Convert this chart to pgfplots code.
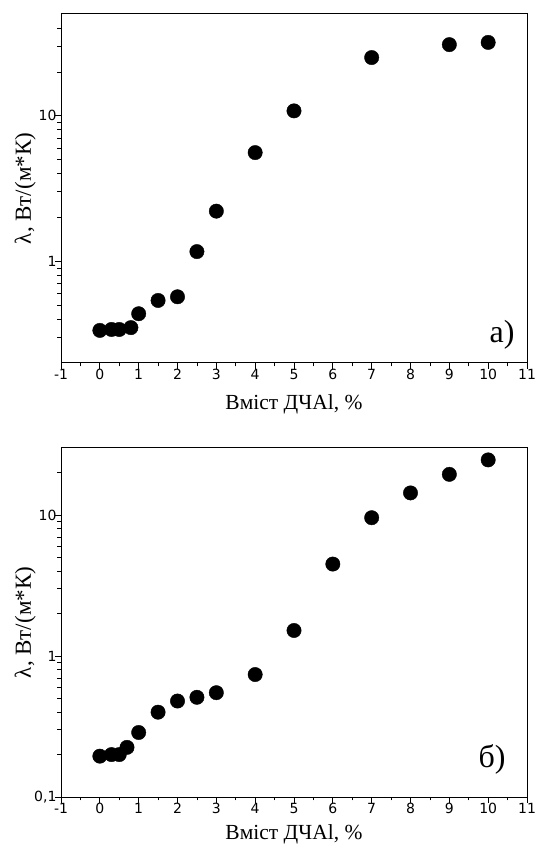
\documentclass[border=0pt]{standalone}
\usepackage{fontspec}
\setmainfont{Liberation Serif}
\newfontfamily\ticksf{DejaVu Sans}
\newcommand\tickfont{\ticksf\fontsize{14}{16}\selectfont}
\newcommand\labfont{\fontsize{21.5}{24}\selectfont}
\usepackage{pgfplots}
\usepackage{pgfplotstable}
\pgfplotsset{compat=1.18}

\pgfplotstableread{
x y
0   0.335
0.3 0.34
0.5 0.34
0.8 0.35
1   0.436
1.5 0.538
2   0.57
2.5 1.165
3   2.21
4   5.58
5   10.8
7   25.1
9   30.8
10  31.9
}\dataA

\pgfplotstableread{
x y
0   0.195
0.3 0.20
0.5 0.20
0.7 0.225
1   0.287
1.5 0.40
2   0.48
2.5 0.51
3   0.55
4   0.74
5   1.52
6   4.5
7   9.6
8   14.4
9   19.5
10  24.7
}\dataB

\pgfplotsset{
  every axis/.append style={
    scale only axis, width=466pt, height=349pt,
    xmin=-1, xmax=11,
    xtick={-1,0,...,11},
    xticklabels={-1,0,1,2,3,4,5,6,7,8,9,10,11},
    minor x tick num=1,
    tick align=outside, xtick pos=left, ytick pos=left,
    major tick length=6pt, minor tick length=3.5pt,
    tick style={line width=0.8pt, black},
    axis line style={line width=1pt},
    xlabel style={font=\labfont,
      at={([yshift=-47pt]axis description cs:0.5,0)}, anchor=base},
    ylabel style={font=\fontsize{23}{26}\selectfont,
      at={([xshift=-30pt]axis description cs:0,0.5)}, anchor=base},
  },
}

\begin{document}
\begin{tikzpicture}
\useasboundingbox (0pt,0pt) rectangle (538pt,845pt);

\begin{semilogyaxis}[at={(61pt,482pt)}, anchor=south west,
    ymin=0.2, ymax=50,
    ytick={1,10}, yticklabels={1,10},
    minor ytick={0.3,0.4,0.5,0.6,0.7,0.8,0.9,2,3,4,5,6,7,8,9,20,30,40},
    xticklabel style={font=\tickfont, yshift=3pt},
    yticklabel style={font=\tickfont, xshift=5pt},
    xlabel={Вміст ДЧАl, \%},
    ylabel={λ, Вт/(м*К)},
]
\addplot[only marks, mark=*, mark size=7.2pt, mark options={fill=black, draw=black}]
  table[x=x, y=y] {\dataA};
\node[anchor=base east, font=\fontsize{32}{36}\selectfont]
  at ([xshift=-9pt, yshift=20pt]rel axis cs:1,0) {a)};
\end{semilogyaxis}

\begin{semilogyaxis}[at={(61pt,48pt)}, anchor=south west,
    ymin=0.1, ymax=30,
    ytick={0.1,1,10}, yticklabels={{0,1},1,10},
    minor ytick={0.2,0.3,0.4,0.5,0.6,0.7,0.8,0.9,2,3,4,5,6,7,8,9,20},
    xticklabel style={font=\tickfont, yshift=3pt},
    yticklabel style={font=\tickfont, xshift=5pt},
    xlabel={Вміст ДЧАl, \%},
    ylabel={λ, Вт/(м*К)},
    xlabel style={at={([yshift=-42pt]axis description cs:0.5,0)}},
]
\addplot[only marks, mark=*, mark size=7.2pt, mark options={fill=black, draw=black}]
  table[x=x, y=y] {\dataB};
\node[anchor=base east, font=\fontsize{32}{36}\selectfont]
  at ([xshift=-18pt, yshift=30pt]rel axis cs:1,0) {б)};
\end{semilogyaxis}
\end{tikzpicture}
\end{document}
